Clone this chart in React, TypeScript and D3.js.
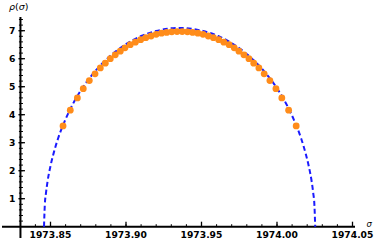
import React, { useRef, useEffect } from 'react';
import * as d3 from 'd3';

// orange sample points
const dotX = [
  1973.8583, 1973.8631, 1973.8678, 1973.8717, 1973.8757, 1973.8795, 1973.8830, 1973.8863,
  1973.8896, 1973.8929, 1973.8962, 1973.8993, 1973.9028, 1973.9062, 1973.9097, 1973.9131,
  1973.9166, 1973.9200, 1973.9235, 1973.9269, 1973.9303, 1973.9338,
  1973.9372, 1973.9407, 1973.9441, 1973.9476, 1973.9510, 1973.9545, 1973.9579, 1973.9614,
  1973.9648, 1973.9683, 1973.9717, 1973.9748, 1973.9781, 1973.9814, 1973.9846, 1973.9880,
  1973.9915, 1973.9953, 1973.9993, 1974.0032, 1974.0077, 1974.0127,
];
const dotY = [
  3.60, 4.16, 4.60, 4.93, 5.22, 5.46, 5.67, 5.84, 6.00, 6.14, 6.27, 6.39, 6.50, 6.59, 6.68,
  6.75, 6.81, 6.87, 6.91, 6.94, 6.96, 6.97,
  6.97, 6.96, 6.94, 6.91, 6.87, 6.81, 6.75, 6.68, 6.59, 6.50, 6.39, 6.27, 6.14, 6.00, 5.84,
  5.67, 5.46, 5.22, 4.93, 4.60, 4.16, 3.60,
];

// blue dashed density curve
const curveX = [
  1973.8457, 1973.8462, 1973.847, 1973.848, 1973.850, 1973.852, 1973.855, 1973.860,
  1973.865, 1973.870, 1973.880, 1973.890, 1973.900, 1973.910, 1973.920, 1973.9355,
  1973.951, 1973.961, 1973.971, 1973.981, 1973.991, 1974.001, 1974.006, 1974.011,
  1974.016, 1974.019, 1974.021, 1974.023, 1974.024, 1974.0248, 1974.0253,
];
const curveY = [
  0, 0.75, 1.20, 1.60, 2.17, 2.61, 3.15, 3.84, 4.40, 4.86, 5.58, 6.12, 6.52, 6.81, 6.99, 7.10,
  6.99, 6.81, 6.52, 6.12, 5.58, 4.86, 4.40, 3.84, 3.15, 2.61, 2.17, 1.60, 1.20, 0.75, 0,
];

const xTicks = [1973.85, 1973.9, 1973.95, 1974.0, 1974.05];
const xTickLabels = ['1973.85', '1973.90', '1973.95', '1974.00', '1974.05'];
const yTicks = [1, 2, 3, 4, 5, 6, 7];

const W = 374;
const H = 241;

export default function App() {
  const ref = useRef<SVGSVGElement>(null);

  useEffect(() => {
    if (!ref.current) return;
    const svg = d3.select(ref.current);
    svg.selectAll('*').remove();

    // 1510 px per unit on x, 28 px per unit on y
    const x = d3.scaleLinear().domain([1973.85, 1974.05]).range([50.5, 352.5]);
    const y = d3.scaleLinear().domain([0, 7]).range([226.7, 30.7]);
    const axX = x(1973.8301);
    const axY = y(0);
    const font = '"DejaVu Sans", sans-serif';

    const g = svg.append('g');

    // axes lines
    g.append('line')
      .attr('x1', 2).attr('x2', 355).attr('y1', axY).attr('y2', axY)
      .attr('stroke', '#000').attr('stroke-width', 2);
    g.append('line')
      .attr('x1', axX).attr('x2', axX).attr('y1', 17).attr('y2', 238)
      .attr('stroke', '#000').attr('stroke-width', 2);

    // x ticks
    const xMinor = d3.range(1973.84, 1974.055, 0.01);
    g.selectAll('.xmin').data(xMinor).enter().append('line')
      .attr('x1', d => x(d)).attr('x2', d => x(d))
      .attr('y1', axY).attr('y2', axY - 2.5)
      .attr('stroke', '#000').attr('stroke-width', 1);
    g.selectAll('.xmaj').data(xTicks).enter().append('line')
      .attr('x1', d => x(d)).attr('x2', d => x(d))
      .attr('y1', axY).attr('y2', axY - 5)
      .attr('stroke', '#000').attr('stroke-width', 1.3);
    g.selectAll('.xlab').data(xTicks).enter().append('text')
      .attr('x', d => x(d)).attr('y', 237.5)
      .attr('text-anchor', 'middle')
      .attr('font-family', font).attr('font-weight', 'bold').attr('font-size', 9.2)
      .text((d, i) => xTickLabels[i]);

    // y ticks
    const yMinor = d3.range(0.2, 7.5, 0.2);
    g.selectAll('.ymin').data(yMinor).enter().append('line')
      .attr('x1', axX - 1.5).attr('x2', axX + 2.5)
      .attr('y1', d => y(d)).attr('y2', d => y(d))
      .attr('stroke', '#000').attr('stroke-width', 1);
    g.selectAll('.ymaj').data(yTicks).enter().append('line')
      .attr('x1', axX - 2).attr('x2', axX + 4.5)
      .attr('y1', d => y(d)).attr('y2', d => y(d))
      .attr('stroke', '#000').attr('stroke-width', 1.3);
    g.selectAll('.ylab').data(yTicks).enter().append('text')
      .attr('x', 15.5).attr('y', d => y(d) + 3.4)
      .attr('text-anchor', 'end')
      .attr('font-family', font).attr('font-weight', 'bold').attr('font-size', 9.2)
      .text(d => String(d));

    // axis labels
    const yl = g.append('text')
      .attr('x', 9).attr('y', 10)
      .attr('font-family', font).attr('font-size', 9.5);
    yl.append('tspan').attr('font-style', 'italic').text('ρ');
    yl.append('tspan').text('(');
    yl.append('tspan').attr('font-style', 'italic').text('σ');
    yl.append('tspan').text(')');
    g.append('text')
      .attr('x', 366.5).attr('y', 227)
      .attr('font-family', font).attr('font-size', 8.5).attr('font-style', 'italic')
      .text('σ');

    // density curve
    const pts: [number, number][] = curveX.map((v, i) => [v, curveY[i]]);
    const line = d3.line<[number, number]>()
      .x(d => x(d[0])).y(d => y(d[1]))
      .curve(d3.curveMonotoneX);
    g.append('path')
      .attr('d', line(pts))
      .attr('fill', 'none')
      .attr('stroke', '#1a1aff')
      .attr('stroke-width', 2)
      .attr('stroke-dasharray', '5,3');

    // dots
    g.selectAll('.dot').data(dotX).enter().append('circle')
      .attr('cx', d => x(d)).attr('cy', (d, i) => y(dotY[i]))
      .attr('r', 3.4)
      .attr('fill', '#ff8c1a');
  }, []);

  return (
    <svg
      ref={ref}
      width={W}
      height={H}
      style={{ position: 'absolute', left: 0, top: 0, background: '#fff' }}
    />
  );
}
